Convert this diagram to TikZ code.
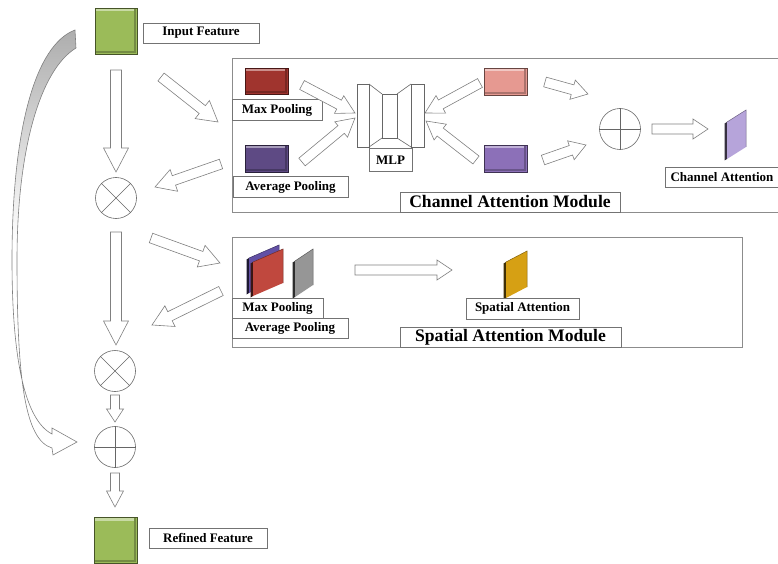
\documentclass[tikz,border=0pt]{standalone}
\usepackage{fontspec}
\setmainfont{Liberation Serif}
\usetikzlibrary{calc}

\definecolor{featgreen}{RGB}{155,187,89}
\definecolor{maxred}{RGB}{160,52,46}
\definecolor{avgpurple}{RGB}{94,74,132}
\definecolor{pinkmap}{RGB}{230,153,145}
\definecolor{midpurple}{RGB}{140,112,184}
\definecolor{lavender}{RGB}{182,164,218}
\definecolor{stackred}{RGB}{192,72,62}
\definecolor{stackpurple}{RGB}{98,80,165}
\definecolor{slabgray}{RGB}{150,150,150}
\definecolor{slabyellow}{RGB}{214,160,20}

\tikzset{%
  featmap/.style={draw=#1!45!black, line width=0.8pt, fill=#1, inner sep=0pt,
    path picture={%
      \fill[#1!55!white] ([shift={(1pt,-1pt)}]path picture bounding box.north west)
        rectangle ([shift={(-1pt,-3.5pt)}]path picture bounding box.north east);%
      \fill[#1!75!black] ([shift={(1pt,1pt)}]path picture bounding box.south west)
        rectangle ([shift={(-1pt,3pt)}]path picture bounding box.south east);%
      \fill[#1!75!black] ([shift={(-3pt,-1pt)}]path picture bounding box.north east)
        rectangle ([shift={(-1pt,1pt)}]path picture bounding box.south east);}},
  lbl/.style={draw=black!55, fill=white, inner sep=0pt, minimum height=20pt,
    font=\fontsize{13}{14}\selectfont\bfseries},
  modtitle/.style={lbl, font=\fontsize{17.6}{19}\selectfont\bfseries},
  modbox/.style={draw=black!45, line width=0.6pt},
  barrow/.style={draw=black!50, fill=white, line width=0.6pt, line join=miter},
  opnode/.style={draw=black!60, circle, minimum size=41pt, inner sep=0pt, line width=0.6pt},
}

% hollow block arrow: from, to, half shaft, half head, head length
\newcommand\blockarrow[5]{%
  \path (#1) coordinate (ba-a) (#2) coordinate (ba-b);%
  \pgfpointdiff{\pgfpointanchor{ba-a}{center}}{\pgfpointanchor{ba-b}{center}}%
  \pgfgetlastxy\bax\bay%
  \pgfmathsetmacro\baang{atan2(\bay,\bax)}%
  \pgfmathsetmacro\balen{veclen(\bax,\bay)}%
  \pgfmathsetmacro\babase{\balen-#5}%
  \draw[barrow, shift={(ba-a)}, rotate=\baang]
    (0pt,-#3pt) -- (\babase pt,-#3pt) -- (\babase pt,-#4pt) -- (\balen pt,0pt)
    -- (\babase pt,#4pt) -- (\babase pt,#3pt) -- (0pt,#3pt) -- cycle;}

% slanted attention map: colour, x, top right y, width, height, skew
\newcommand\slab[6]{%
  \fill[#1!30!black] (#2-2.5,#3+#6+1.5) -- (#2,#3+#6) -- (#2,#3+#6+#5) -- (#2-2.5,#3+#6+#5+1.5) -- cycle;%
  \fill[#1] (#2,#3+#6) -- (#2+#4,#3) -- (#2+#4,#3+#5) -- (#2,#3+#6+#5) -- cycle;%
  \draw[#1!60!black, line width=0.5pt] (#2,#3+#6) -- (#2+#4,#3) -- (#2+#4,#3+#5);}

\begin{document}
\begin{tikzpicture}[x=1pt, y=-1pt]
  \useasboundingbox (0,0) rectangle (778,564);%

  % module frames
  \draw[modbox] (232,58) rectangle (779,212);%
  \draw[modbox] (232,237) rectangle (742,347);%

  % skip connection
  \draw[barrow, top color=black!32, bottom color=white, middle color=white]
    (75,30) .. controls (35,45) and (12,130) .. (12,260)
    .. controls (12,360) and (25,420) .. (52,434) -- (52,428) -- (77,442)
    -- (53,455) -- (52,448) .. controls (25,440) and (17,380) .. (17,260)
    .. controls (17,150) and (40,70) .. (76,48) -- cycle;%

  % feature maps
  \node[featmap=featgreen, minimum width=42pt, minimum height=46pt] (in) at (116,31) {};%
  \node[featmap=featgreen, minimum width=43pt, minimum height=46pt] (out) at (115.5,540) {};%
  \node[featmap=maxred, minimum width=43pt, minimum height=26pt] (maxc) at (266.5,81) {};%
  \node[featmap=avgpurple, minimum width=43pt, minimum height=27pt] (avgc) at (266.5,158.5) {};%
  \node[featmap=pinkmap, minimum width=43pt, minimum height=27pt] (pinkc) at (505.5,81.5) {};%
  \node[featmap=midpurple, minimum width=43pt, minimum height=27pt] (purc) at (505.5,158.5) {};%

  % operators
  \node[opnode] (ot1) at (116,198) {};%
  \node[opnode] (ot2) at (115,371) {};%
  \node[opnode] (op1) at (620,129) {};%
  \node[opnode] (op2) at (115,447) {};%
  \foreach \o in {ot1, ot2} {%
    \draw[black!60] (\o.north west) -- (\o.south east) (\o.north east) -- (\o.south west); }%
  \foreach \o in {op1, op2} {%
    \draw[black!60] (\o.north) -- (\o.south) (\o.west) -- (\o.east); }%

  % mlp
  \begin{scope}[draw=black!60, line width=0.6pt]
    \draw (357,84) rectangle (369,147) (411,84) rectangle (424,147) (382,94) rectangle (397,138);%
    \draw (369,84) -- (382,94) (369,147) -- (382,138) (397,94) -- (411,84) (397,138) -- (411,147);%
  \end{scope}
  \coordinate (mlp) at (390,115);%

  % attention maps
  \slab{lavender}{727}{110}{19}{37}{12}%
  \slab{stackpurple}{249}{245}{30}{35}{13}%
  \slab{stackred}{253}{249}{30}{34}{13}%
  \slab{slabgray}{295}{249}{18}{36}{12}%
  \slab{slabyellow}{506}{251}{21}{36}{11}%

  % labels
  \node[lbl, minimum width=116pt] (lin) at (201,33) {Input Feature};%
  \node[lbl, minimum width=90pt, minimum height=21pt] (lmaxc) at (277,110) {Max Pooling};%
  \node[lbl, minimum width=115pt, minimum height=21pt] (lavgc) at (290.5,187) {Average Pooling};%
  \node[lbl, minimum width=43pt, minimum height=23pt] (lmlp) at (390.5,160) {MLP};%
  \node[lbl, minimum width=114pt] (lca) at (722,177) {Channel Attention};%
  \node[modtitle, minimum width=220pt] (lcam) at (510,202) {Channel Attention Module};%
  \node[lbl, minimum width=91pt] (lmaxs) at (277.5,308) {Max Pooling};%
  \node[lbl, minimum width=116pt] (lavgs) at (290,328.5) {Average Pooling};%
  \node[lbl, minimum width=113pt, minimum height=21pt] (lsa) at (522.5,308.5) {Spatial Attention};%
  \node[modtitle, minimum width=221pt] (lsam) at (510.5,337) {Spatial Attention Module};%
  \node[lbl, minimum width=118pt] (lout) at (208,538) {Refined Feature};%

  % arrows
  \blockarrow{116,70}{116,172}{5.5}{12.5}{24}%
  \blockarrow{161,77}{218,122}{5}{11.5}{20}%
  \blockarrow{221,164}{155,187}{5}{11.5}{20}%
  \blockarrow{116,232}{116,345}{5.5}{12.5}{24}%
  \blockarrow{151,238}{220,263}{5}{11.5}{20}%
  \blockarrow{221,291}{152,325}{5}{11.5}{20}%
  \blockarrow{115,395}{115,422}{4.5}{8.5}{13}%
  \blockarrow{115,473}{115,507}{4.5}{8.5}{16}%
  \blockarrow{302,85}{355,113}{5}{10}{18}%
  \blockarrow{302,162}{355,118}{5}{10}{18}%
  \blockarrow{480,83}{425,113}{5}{10}{18}%
  \blockarrow{476,160}{426,121}{5}{10}{18}%
  \blockarrow{545,82}{588,94}{5}{10}{16}%
  \blockarrow{543,160}{586,145}{5}{10}{16}%
  \blockarrow{652,129}{708,129}{5}{10}{15}%
  \blockarrow{355,270}{452,270}{5}{10}{15}%
\end{tikzpicture}
\end{document}
